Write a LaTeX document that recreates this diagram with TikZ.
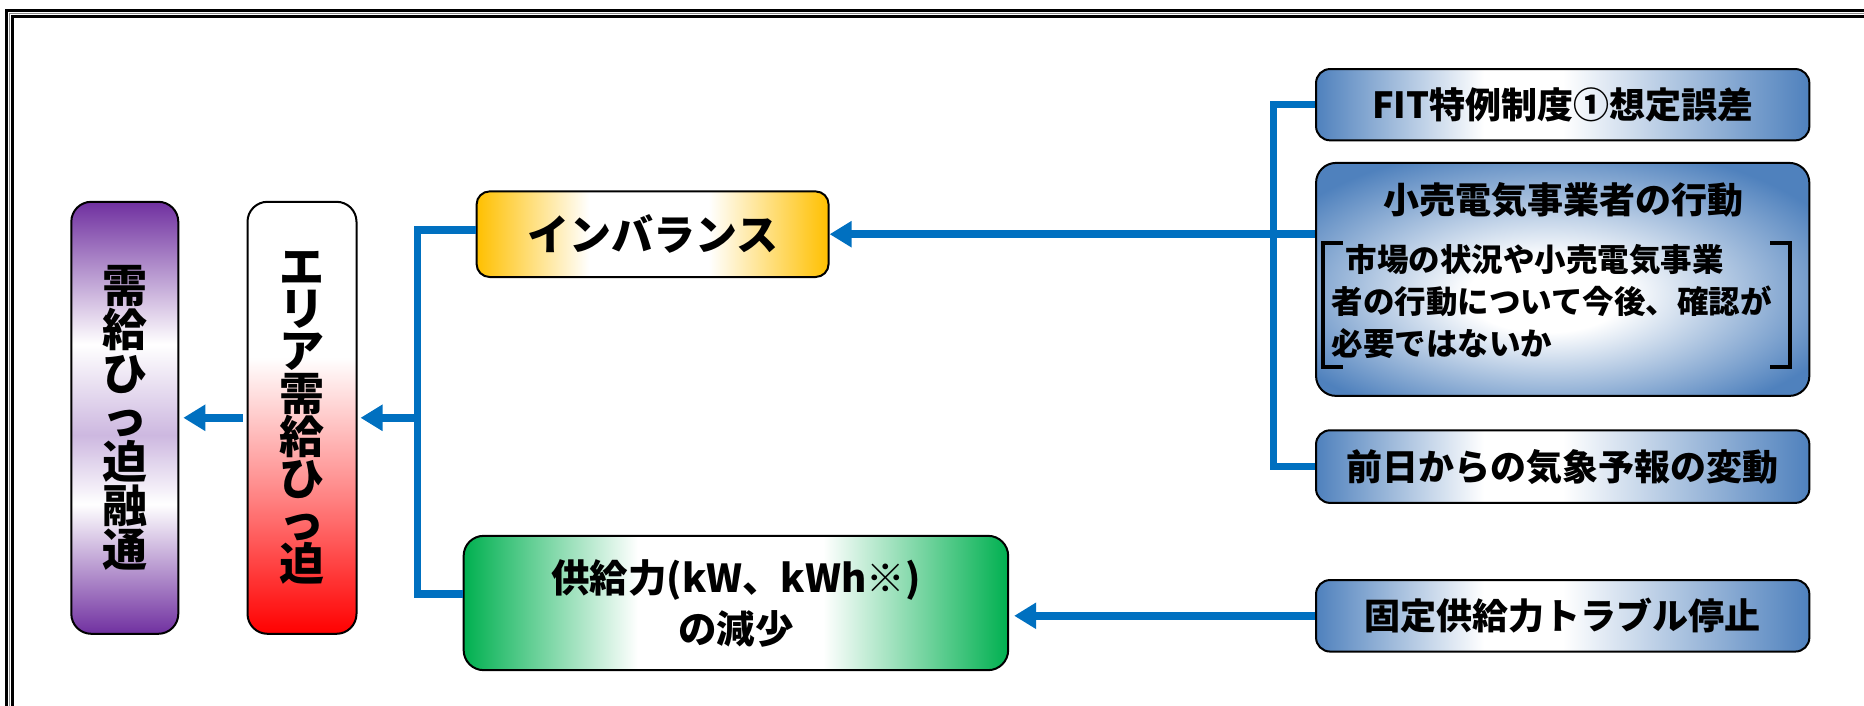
\documentclass[tikz,border=0pt]{standalone}
\usepackage{fontspec}
\setmainfont{Noto Sans CJK JP}
\usetikzlibrary{arrows.meta}
\definecolor{cpur}{HTML}{7030A0}
\definecolor{cpurl}{HTML}{CDB8E0}
\definecolor{cred}{HTML}{FF0000}
\definecolor{cgold}{HTML}{FFC000}
\definecolor{cgrn}{HTML}{00B050}
\definecolor{cblu}{HTML}{4F81BD}
\definecolor{cline}{HTML}{0070C0}
\pgfdeclareverticalshading{purpsh}{100bp}{color(0bp)=(cpur); color(25bp)=(cpur); color(40bp)=(white); color(48bp)=(cpurl); color(58.5bp)=(white); color(75bp)=(cpur); color(100bp)=(cpur)}
\pgfdeclareverticalshading{redsh}{100bp}{color(0bp)=(cred); color(25bp)=(cred); color(42bp)=(cred!45!white); color(57bp)=(white); color(75bp)=(white); color(100bp)=(white)}
\pgfdeclarehorizontalshading{goldsh}{100bp}{color(0bp)=(cgold); color(25bp)=(cgold); color(41bp)=(white); color(58bp)=(white); color(75bp)=(cgold); color(100bp)=(cgold)}
\pgfdeclarehorizontalshading{grnsh}{100bp}{color(0bp)=(cgrn); color(25bp)=(cgrn); color(41bp)=(white); color(58bp)=(white); color(75bp)=(cgrn); color(100bp)=(cgrn)}
\pgfdeclarehorizontalshading{blush}{100bp}{color(0bp)=(cblu); color(25bp)=(cblu); color(42bp)=(white); color(50bp)=(white); color(75bp)=(cblu); color(100bp)=(cblu)}
\pgfdeclareradialshading{blurad}{\pgfpoint{-2bp}{-4bp}}{color(0bp)=(white); color(8bp)=(white); color(31bp)=(cblu); color(50bp)=(cblu)}
\tikzset{
  box/.style={draw=black, line width=2pt, rounded corners=14pt, inner sep=0pt, text=black,
    font=\bfseries\fontsize{36}{40}\selectfont},
  conn/.style={draw=cline, line width=7.5pt},
  arr/.style={conn, -{Triangle[length=22pt,width=25pt]}},
  frame/.style={line width=3pt, draw=black},
}
\begin{document}
\begin{tikzpicture}[x=1pt,y=-1pt]
\useasboundingbox (0,0) rectangle (1864,706);
% frame
\draw[line width=1.5pt, draw=black!45] (9.5,706) -- (9.5,13.5) -- (1864,13.5);
\draw[frame] (6.5,706) -- (6.5,10.5) -- (1864,10.5);
\draw[frame] (12.5,706) -- (12.5,16.5) -- (1864,16.5);
% left column
\node[box, rounded corners=20pt, shading=purpsh, minimum width=107pt, minimum height=432pt,
  align=center, font=\bfseries\fontsize{45}{44}\selectfont] (juyo) at (124.8,417.8)
  {需\\給\\ひ\\っ\\迫\\融\\通};
\node[box, rounded corners=20pt, shading=redsh, minimum width=109pt, minimum height=432pt,
  align=center, font=\bfseries\fontsize{45}{42.2}\selectfont] (area) at (302,417.8)
  {エ\\リ\\ア\\需\\給\\ひ\\っ\\迫};
% middle
\node[box, rounded corners=13pt, shading=goldsh, minimum width=352pt, minimum height=85.6pt,
  font=\bfseries\fontsize{42}{46}\selectfont] (imb) at (652.6,234.2) {インバランス};
\node[box, rounded corners=20pt, shading=grnsh, minimum width=544.5pt, minimum height=134.3pt,
  align=center, font=\bfseries\fontsize{38.5}{51}\selectfont] (supply) at (735.9,603)
  {供給力(kW、kWh※)\\の減少};
% right
\node[box, shading=blush, minimum width=493.3pt, minimum height=71.3pt] (fit) at (1562.7,104.7) {FIT特例制度①想定誤差};
\node[box, rounded corners=20pt, shading=blurad, minimum width=493.3pt, minimum height=233pt] (retail) at (1562.7,279.4) {};
\node[inner sep=0pt, font=\bfseries\fontsize{36}{40}\selectfont] (retailT) at (1563,200) {小売電気事業者の行動};
\node[inner sep=0pt, anchor=west, align=left, font=\bfseries\fontsize{31.5}{42}\selectfont] (retailB) at (1331.5,302)
  {\hspace*{14pt}市場の状況や小売電気事業\\者の行動について今後、確認が\\必要ではないか};
\draw[line width=3.5pt] (1343,243) -- (1323,243) -- (1323,367) -- (1343,367);
\draw[line width=3.5pt] (1770,243) -- (1790,243) -- (1790,367) -- (1770,367);
\node[box, shading=blush, minimum width=493.3pt, minimum height=72.6pt] (weather) at (1562.7,466.6) {前日からの気象予報の変動};
\node[box, shading=blush, minimum width=493.3pt, minimum height=71.5pt] (trouble) at (1562.7,615.8) {固定供給力トラブル停止};
% connectors
\coordinate (J) at (417.3,417.8);
\coordinate (B) at (1273.5,234.2);
\draw[conn] ([yshift=4pt]imb.west) -| (J) |- ([yshift=9pt]supply.west);
\draw[arr, shorten >=3pt] (J) -- (area.east);
\draw[arr, shorten <=4pt, shorten >=4pt] (area.west) -- (juyo.east);
\draw[arr] (retail.west |- imb.east) -- (imb.east);
\draw[conn] (fit.west) -| (B) |- (weather.west);
\draw[arr, shorten >=5pt] (trouble.west) -- (trouble.west -| supply.east);
\end{tikzpicture}
\end{document}
